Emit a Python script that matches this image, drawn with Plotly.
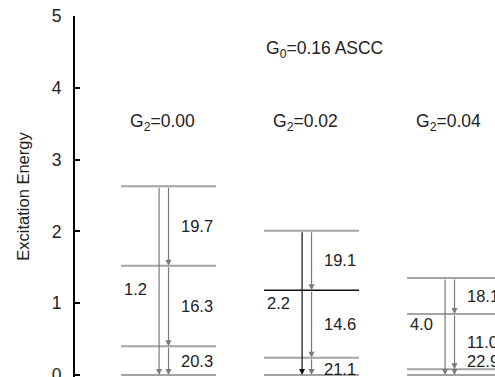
import plotly.graph_objects as go

# Level schemes for three G2 values (G0 = 0.16, ASCC)
columns = ["G<sub>2</sub>=0.00", "G<sub>2</sub>=0.02", "G<sub>2</sub>=0.04"]
levels = [
    [0.0, 0.40, 1.52, 2.63],
    [0.0, 0.24, 1.18, 2.01],
    [0.0, 0.08, 0.85, 1.35],
]
# B(E2) values for the cascade (top->2nd, 2nd->3rd, 3rd->ground)
cascade_be2 = [
    ["19.7", "16.3", "20.3"],
    ["19.1", "14.6", "21.1"],
    ["18.1", "11.0", "22.9"],
]
# B(E2) for the direct decay top -> ground
direct_be2 = ["1.2", "2.2", "4.0"]
header = "G<sub>0</sub>=0.16 ASCC"

FONT = "Liberation Sans, Arial, sans-serif"
TXT = "#222222"
GRAY = "#a3a3a3"
ARROW_GRAY = "#7a7a7a"
HALF = 0.332       # half width of a level line
LEFT_ARR = -0.066  # offset of the direct-decay arrow
RIGHT_ARR = 0.0    # offset of the cascade arrows

fig = go.Figure()
ann = []

for i, lv in enumerate(levels):
    for k, e in enumerate(lv):
        dark = (i == 1 and k == 2)
        fig.add_trace(go.Scatter(
            x=[i - HALF, i + HALF], y=[e, e], mode="lines",
            line=dict(color="#111111" if dark else GRAY, width=1.3 if dark else 2),
            hoverinfo="skip", showlegend=False, cliponaxis=True,
        ))
    top = lv[-1]
    # direct arrow top -> ground
    ann.append(dict(
        x=i + LEFT_ARR, y=lv[0], ax=i + LEFT_ARR, ay=top,
        xref="x", yref="y", axref="x", ayref="y", text="",
        showarrow=True, arrowhead=2, arrowsize=1.0, arrowwidth=1.2,
        arrowcolor="#111111" if i == 1 else ARROW_GRAY, standoff=0, startstandoff=0,
    ))
    # cascade arrows
    for k in range(3, 0, -1):
        ann.append(dict(
            x=i + RIGHT_ARR, y=lv[k - 1], ax=i + RIGHT_ARR, ay=lv[k],
            xref="x", yref="y", axref="x", ayref="y", text="",
            showarrow=True, arrowhead=2, arrowsize=1.0, arrowwidth=1.2,
            arrowcolor=ARROW_GRAY, standoff=0, startstandoff=0,
        ))
        mid = (lv[k] + lv[k - 1]) / 2
        shift = 0
        if i == 2 and k == 1:
            shift = 11
        if i == 1 and k == 1:
            shift = -3
        ann.append(dict(
            x=i + 0.075, y=mid, xref="x", yref="y", text=cascade_be2[i][3 - k],
            showarrow=False, xanchor="left", yanchor="middle", yshift=shift,
            font=dict(family=FONT, size=16.5, color=TXT),
        ))
    # direct B(E2) label under the second-highest level
    drop = [23, 13, 10][i]
    ann.append(dict(
        x=i - HALF + 0.005, y=lv[2], xref="x", yref="y", text=direct_be2[i],
        showarrow=False, xanchor="left", yanchor="middle", yshift=-drop,
        font=dict(family=FONT, size=16.5, color=TXT),
    ))
    # column header
    ann.append(dict(
        x=i - 0.04, y=3.52, xref="x", yref="y", text=columns[i],
        showarrow=False, xanchor="center", yanchor="middle",
        font=dict(family=FONT, size=17.5, color=TXT),
    ))

ann.append(dict(
    x=1.09, y=4.53, xref="x", yref="y", text=header,
    showarrow=False, xanchor="center", yanchor="middle",
    font=dict(family=FONT, size=17.5, color=TXT),
))

fig.update_layout(
    width=495, height=377,
    margin=dict(l=75, r=0, t=16, b=0, autoexpand=False),
    paper_bgcolor="white", plot_bgcolor="white",
    annotations=ann,
    xaxis=dict(range=[-0.654, 2.283], visible=False, fixedrange=True,
               automargin=False),
    yaxis=dict(
        range=[-0.028, 5], dtick=1, tick0=0, automargin=False,
        showline=True, linecolor="black", linewidth=2,
        ticks="inside", ticklen=5, tickwidth=2, tickcolor="black",
        showgrid=False, zeroline=False,
        tickfont=dict(family=FONT, size=17.5, color=TXT),
        ticklabelstandoff=8, ticklabeloverflow="allow",
        title=dict(text="Excitation Energy", standoff=18,
                   font=dict(family=FONT, size=16.5, color=TXT)),
    ),
)

fig.write_html("out.html")
